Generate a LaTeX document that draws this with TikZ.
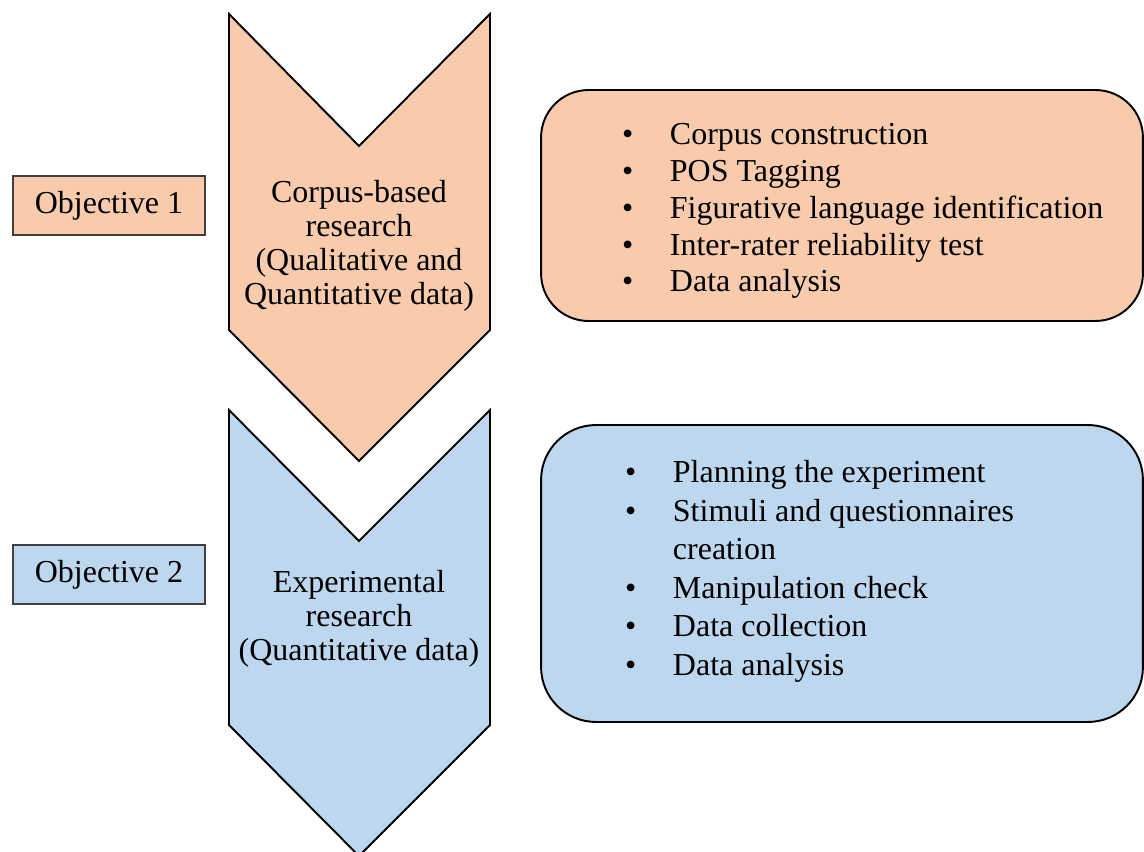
\documentclass[tikz,border=0pt]{standalone}
\usepackage{fontspec}
\setmainfont{Liberation Serif}
\definecolor{objPeach}{HTML}{F8CBAD}
\definecolor{objBlue}{HTML}{BDD7EE}
\newcommand{\bul}{\makebox[0.96cm][l]{\textbullet}}
\newcommand{\nobul}{\makebox[0.96cm][l]{}}

\begin{document}
\begin{tikzpicture}[
  x=0.02cm,y=-0.02cm,
  font=\fontsize{18.2}{21}\selectfont,
  every node/.style={
    text=black,outer sep=0pt
  },
  objbox/.style={
    draw=black!75,
    line width=0.6pt,
    minimum width=3.84cm,
    minimum height=1.18cm,
    inner sep=0pt
  },
  chevron/.style={
    draw=black,
    line width=1.1pt,
    line join=miter
  },
  taskbox/.style={
    draw=black,
    line width=1.1pt,
    minimum width=12.04cm,
    inner sep=0pt
  },
  chevtext/.style={
    align=center,
    font=\fontsize{18.2}{19.4}\selectfont
  },
  tasklist/.style={
    align=left,
    anchor=west,
    inner sep=0pt
  }
]
\useasboundingbox (0,0) rectangle (1144,852);

% Objective labels
\node[objbox,fill=objPeach] (obj1) at (109,205.5) {Objective 1};
\node[objbox,fill=objBlue] (obj2) at (109,574.5) {Objective 2};

% Two chevrons
\fill[objPeach] (229,14) -- (359,146) -- (490,14)
  -- (490,330) -- (359,461) -- (229,330) -- cycle;
\draw[chevron] (229,14) -- (359,146) -- (490,14)
  -- (490,330) -- (359,461) -- (229,330) -- cycle;

\fill[objBlue] (229,410) -- (359,541) -- (490,410)
  -- (490,725) -- (359,856) -- (229,725) -- cycle;
\draw[chevron] (229,410) -- (359,541) -- (490,410)
  -- (490,725) -- (359,856) -- (229,725) -- cycle;

% Chevron texts
\node[chevtext] (corpus) at (359,246)
  {Corpus-based\\research\\(Qualitative and\\Quantitative data)};

\node[chevtext] (expt) at (359,619)
  {Experimental\\research\\(Quantitative data)};

% Task boxes
\node[taskbox,fill=objPeach,rounded corners=0.95cm,
  minimum height=4.62cm] (box1) at (842,205.5) {};

\node[taskbox,fill=objBlue,rounded corners=1.1cm,
  minimum height=5.94cm] (box2) at (842,573.5) {};

% Task lists
\node[tasklist] (tasks1) at (622,211)
  {\bul Corpus construction\\
   \bul POS Tagging\\
   \bul Figurative language identification\\
   \bul Inter-rater reliability test\\
   \bul Data analysis};

\node[tasklist,font=\fontsize{18.2}{21.9}\selectfont] (tasks2) at (625,571.5)
  {\bul Planning the experiment\\
   \bul Stimuli and questionnaires\\
   \nobul creation\\
   \bul Manipulation check\\
   \bul Data collection\\
   \bul Data analysis};

\end{tikzpicture}
\end{document}
